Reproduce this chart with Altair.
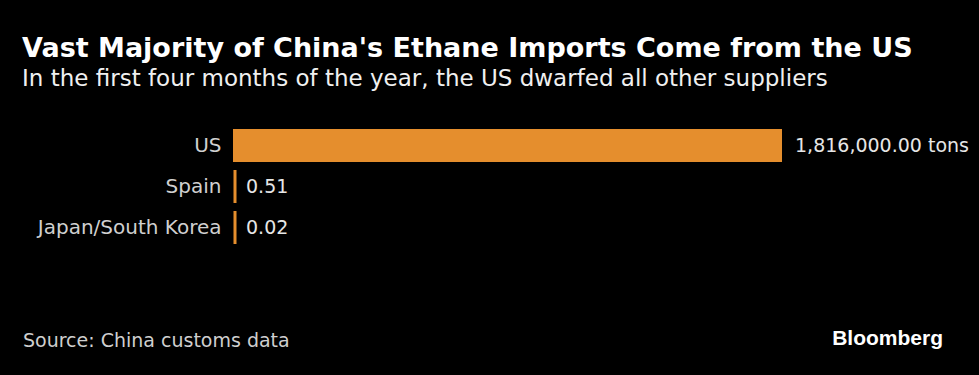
import altair as alt
import pandas as pd

suppliers = ["US", "Spain", "Japan/South Korea"]
values = [1816000, 0.51, 0.02]
value_labels = ["1,816,000.00 tons", "0.51", "0.02"]

title_text = "Vast Majority of China's Ethane Imports Come from the US"
subtitle_text = "In the first four months of the year, the US dwarfed all other suppliers"
source_text = "Source: China customs data"
brand_text = "Bloomberg"

ORANGE = "#E58E2D"
FONT = "DejaVu Sans"

df = pd.DataFrame({"supplier": suppliers, "value": values, "label": value_labels})
note_df = pd.DataFrame({"source": [source_text], "brand": [brand_text]})

y_enc = alt.Y(
    "supplier:N",
    sort=suppliers,
    scale=alt.Scale(paddingInner=0.2, paddingOuter=0.1),
    axis=alt.Axis(
        title=None, ticks=False, domain=False, labelPadding=12, labelLimit=400,
        labelFontSize=20, labelColor="#d0d0d0", labelFont=FONT,
    ),
)
x_enc = alt.X("value:Q", scale=alt.Scale(domain=[0, 1816000], nice=False), axis=None)

base = alt.Chart(df)
bars = base.mark_bar(color=ORANGE).encode(x=x_enc, y=y_enc)
ticks = base.transform_filter("datum.value < 1").mark_tick(
    color=ORANGE, thickness=3, size=33, xOffset=2, opacity=1
).encode(x=x_enc, y=y_enc)
labels = base.mark_text(
    align="left", baseline="middle", dx=13, fontSize=19, color="#e6e6e6", font=FONT
).encode(x=x_enc, y=y_enc, text="label:N")

source = alt.Chart(note_df).mark_text(
    align="left", baseline="alphabetic", fontSize=19, color="#cfcfcf", font=FONT
).encode(x=alt.value(-210), y=alt.value(222), text="source:N")
brand = alt.Chart(note_df).mark_text(
    align="right", baseline="alphabetic", fontSize=21, fontWeight="bold",
    color="#ffffff", font="Liberation Sans"
).encode(x=alt.value(710), y=alt.value(220), text="brand:N")

chart = alt.layer(bars, ticks, labels, source, brand).properties(
    width=549,
    height=123,
    autosize=alt.AutoSizeParams(type="none"),
    padding={"left": 233, "top": 125, "right": 197, "bottom": 127},
    background="#000000",
    title=alt.TitleParams(
        text=title_text,
        subtitle=subtitle_text,
        anchor="start",
        frame="group",
        dx=-211,
        offset=33,
        font=FONT,
        fontSize=27,
        fontWeight="bold",
        color="#ffffff",
        subtitleFont=FONT,
        subtitleFontSize=23,
        subtitleColor="#f0f0f0",
        subtitlePadding=5,
    ),
).configure_view(stroke=None)

chart.save("out.html", embed_options={"renderer": "svg", "actions": False})
